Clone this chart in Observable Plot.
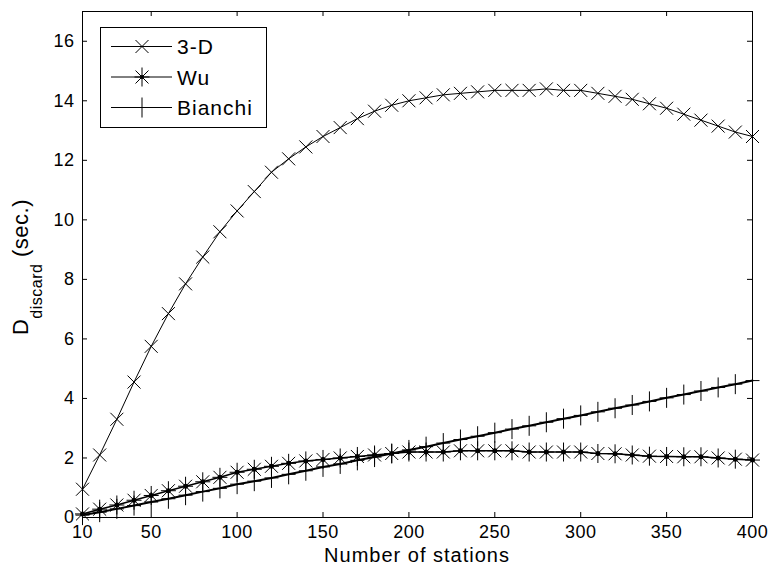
<!DOCTYPE html>
<html><head><meta charset="utf-8">
<script src="https://cdn.jsdelivr.net/npm/d3@7"></script>
<script src="https://cdn.jsdelivr.net/npm/@observablehq/plot@0.6"></script>
<style>body{margin:0;background:#fff;} svg{display:block}</style>
</head><body><div id="chart"></div>
<script>
// ---- data ----
const stations = [10,20,30,40,50,60,70,80,90,100,110,120,130,140,150,160,170,180,190,200,210,220,230,240,250,260,270,280,290,300,310,320,330,340,350,360,370,380,390,400];
const values3D = [0.95,2.1,3.3,4.55,5.75,6.85,7.85,8.75,9.6,10.3,10.95,11.6,12.05,12.45,12.8,13.1,13.4,13.65,13.85,14.0,14.1,14.2,14.25,14.3,14.35,14.35,14.35,14.4,14.35,14.35,14.25,14.15,14.05,13.9,13.75,13.55,13.35,13.15,12.95,12.8];
const valuesWu = [0.12,0.28,0.42,0.58,0.74,0.9,1.05,1.2,1.35,1.52,1.62,1.72,1.82,1.9,1.95,2.0,2.05,2.1,2.15,2.2,2.2,2.2,2.24,2.24,2.24,2.24,2.2,2.2,2.2,2.2,2.15,2.14,2.1,2.06,2.05,2.04,2.04,2.0,1.96,1.93];
const valuesBianchi = [0.08,0.18,0.29,0.4,0.52,0.63,0.75,0.87,0.98,1.12,1.22,1.33,1.45,1.57,1.7,1.8,1.92,2.03,2.15,2.27,2.38,2.5,2.62,2.73,2.85,2.97,3.08,3.2,3.32,3.43,3.55,3.67,3.78,3.9,4.02,4.13,4.25,4.37,4.48,4.6];
const seriesNames = ["3-D","Wu","Bianchi"];
const xTicks = [10,50,100,150,200,250,300,350,400];
const yTicks = [0,2,4,6,8,10,12,14,16];
const xLabel = "Number of stations";
const yLabelMain = "D", yLabelSub = "discard", yLabelUnit = "(sec.)";

const rows3D = stations.map((x,i)=>({x, y: values3D[i]}));
const rowsWu = stations.map((x,i)=>({x, y: valuesWu[i]}));
const rowsBi = stations.map((x,i)=>({x, y: valuesBianchi[i]}));

// ---- marker shapes (pixel sized) ----
const symTimes = {draw(c){const s=6.5;c.moveTo(-s,-s);c.lineTo(s,s);c.moveTo(s,-s);c.lineTo(-s,s);}};
const symAst = {draw(c){c.moveTo(0,-9.5);c.lineTo(0,9.5);c.moveTo(-7.5,0);c.lineTo(7.5,0);const d=6.5;c.moveTo(-d,-d);c.lineTo(d,d);c.moveTo(d,-d);c.lineTo(-d,d);}};
const symPlus = {draw(c){c.moveTo(0,-10);c.lineTo(0,10);c.moveTo(-7,0);c.lineTo(7,0);}};

const W = 768, H = 573, mL = 82, mR = 16, mT = 11, mB = 56, tick = 5;
const innerW = W - mL - mR, innerH = H - mT - mB;
const font = "'Liberation Sans', Arial, sans-serif";
const chart = Plot.plot({
  width: W, height: H,
  marginLeft: mL, marginRight: mR, marginTop: mT, marginBottom: mB,
  style: {fontFamily: font, fontSize: "18px", background: "white", color: "black", overflow: "visible"},
  x: {domain: [10, 400]},
  y: {domain: [0, 17]},
  marks: [
    Plot.axisX(xTicks, {anchor: "bottom", tickSize: 0, tickPadding: 8, label: null, fontSize: 18}),
    Plot.axisY(yTicks, {anchor: "left", tickSize: 0, tickPadding: 8, label: null, fontSize: 18}),
    // inward ticks on all four sides
    Plot.ruleX(xTicks, {x: d => d, insetTop: innerH - tick, stroke: "black", strokeWidth: 1}),
    Plot.ruleX(xTicks, {x: d => d, insetBottom: innerH - tick, stroke: "black", strokeWidth: 1}),
    Plot.ruleY(yTicks, {y: d => d, insetRight: innerW - tick, stroke: "black", strokeWidth: 1}),
    Plot.ruleY(yTicks, {y: d => d, insetLeft: innerW - tick, stroke: "black", strokeWidth: 1}),
    Plot.line(rows3D, {x: "x", y: "y", stroke: "black", strokeWidth: 1}),
    Plot.line(rowsWu, {x: "x", y: "y", stroke: "black", strokeWidth: 1.5}),
    Plot.line(rowsBi, {x: "x", y: "y", stroke: "black", strokeWidth: 2}),
    Plot.dot(rows3D, {x: "x", y: "y", symbol: symTimes, stroke: "black", strokeWidth: 1, r: 5}),
    Plot.dot(rowsWu, {x: "x", y: "y", symbol: symAst, stroke: "black", strokeWidth: 1, r: 5}),
    Plot.dot(rowsWu, {x: "x", y: "y", fill: "black", r: 2.5}),
    Plot.dot(rowsBi, {x: "x", y: "y", symbol: symPlus, stroke: "black", strokeWidth: 1, r: 5}),
    Plot.frame({stroke: "black", strokeWidth: 1})
  ]
});
document.getElementById("chart").appendChild(chart);

const svg = d3.select(chart);
svg.selectAll("text").style("letter-spacing", "0.5px");

// x label
svg.append("text").attr("x", 417).attr("y", 562).attr("text-anchor", "middle")
  .style("font-family", font).style("font-size", "20px").style("letter-spacing", "1px")
  .attr("fill", "black").text(xLabel);

// y label with subscript
const yl = svg.append("text").attr("transform", "translate(28,267) rotate(-90)")
  .attr("text-anchor", "middle").style("font-family", font).style("font-size", "22px")
  .style("letter-spacing", "0.5px").attr("fill", "black");
yl.append("tspan").text(yLabelMain);
yl.append("tspan").attr("dy", 14).style("font-size", "16px").style("letter-spacing", "0.5px").text(yLabelSub);
yl.append("tspan").attr("dy", -14).text(" " + yLabelUnit);

// legend
const lg = svg.append("g");
lg.append("rect").attr("x", 100.5).attr("y", 27.5).attr("width", 166).attr("height", 100)
  .attr("fill", "white").attr("stroke", "black");
const syms = [symTimes, symAst, symPlus];
seriesNames.forEach((name, i) => {
  const cy = 46.5 + i * 30.5;
  lg.append("line").attr("x1", 111).attr("x2", 172).attr("y1", cy).attr("y2", cy).attr("stroke", "black");
  const p = d3.path(); syms[i].draw(p, 0);
  lg.append("path").attr("d", p.toString()).attr("transform", `translate(142,${cy})`).attr("stroke", "black").attr("fill", "none");
  if (i === 1) lg.append("circle").attr("cx", 142).attr("cy", cy).attr("r", 2).attr("fill", "black");
  lg.append("text").attr("x", 177).attr("y", cy + 7.5).attr("text-anchor", "start")
    .style("font-family", font).style("font-size", "21px")
    .style("letter-spacing", "1px").attr("fill", "black").text(name);
});
</script>
</body></html>
